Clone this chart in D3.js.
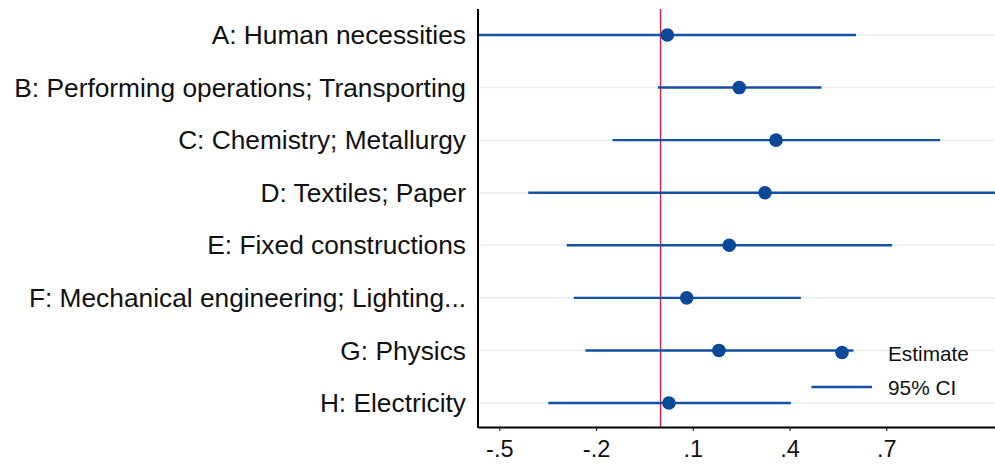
<!DOCTYPE html>
<html>
<head>
<meta charset="utf-8">
<script src="https://cdn.jsdelivr.net/npm/d3@7"></script>
<style>
  html, body { margin: 0; padding: 0; background: #fff; }
  svg { display: block; font-family: "Liberation Sans", Arial, sans-serif; }
</style>
</head>
<body>
<svg id="chart" width="995" height="464"></svg>
<script>
const categories = [
  "A: Human necessities",
  "B: Performing operations; Transporting",
  "C: Chemistry; Metallurgy",
  "D: Textiles; Paper",
  "E: Fixed constructions",
  "F: Mechanical engineering; Lighting...",
  "G: Physics",
  "H: Electricity"
];
const estimates = [0.021, 0.244, 0.358, 0.324, 0.213, 0.081, 0.181, 0.026];
const ciLow     = [-0.70, -0.008, -0.149, -0.410, -0.291, -0.269, -0.233, -0.348];
const ciHigh    = [0.606, 0.499, 0.867, 1.10, 0.718, 0.435, 0.598, 0.404];
const xTicks = [-0.5, -0.2, 0.1, 0.4, 0.7];
const xTickLabels = ["-.5", "-.2", ".1", ".4", ".7"];
const legendLabels = ["Estimate", "95% CI"];

const svg = d3.select("#chart");
const pL = 478, pR = 995, pT = 9, pB = 427;
const lineColor = "#1350a0", dotColor = "#0a4898";

const x = d3.scaleLinear().domain([-0.566, 1.037]).range([pL, pR]);
const y = d3.scalePoint().domain(categories).range([35, 403]);

svg.append("defs").append("clipPath").attr("id", "plotclip")
  .append("rect").attr("x", pL).attr("y", pT).attr("width", pR - pL).attr("height", pB - pT);

// gridlines
svg.append("g").selectAll("line").data(categories).join("line")
  .attr("x1", pL).attr("x2", pR)
  .attr("y1", d => y(d)).attr("y2", d => y(d))
  .attr("stroke", "#e6eef0").attr("stroke-width", 1.5);

// zero reference line
svg.append("line")
  .attr("x1", x(0)).attr("x2", x(0)).attr("y1", pT).attr("y2", pB)
  .attr("stroke", "#dc1740").attr("stroke-width", 1.3);

const plot = svg.append("g").attr("clip-path", "url(#plotclip)");
const rows = categories.map((c, i) => ({ c, est: estimates[i], lo: ciLow[i], hi: ciHigh[i] }));

plot.selectAll("line.ci").data(rows).join("line").attr("class", "ci")
  .attr("x1", d => x(d.lo)).attr("x2", d => x(d.hi))
  .attr("y1", d => y(d.c)).attr("y2", d => y(d.c))
  .attr("stroke", lineColor).attr("stroke-width", 2.4);

plot.selectAll("circle.est").data(rows).join("circle").attr("class", "est")
  .attr("cx", d => x(d.est)).attr("cy", d => y(d.c)).attr("r", 6.8)
  .attr("fill", dotColor);

// y labels
svg.append("g").selectAll("text").data(categories).join("text")
  .attr("x", 466).attr("y", d => y(d)).attr("dy", "0.35em")
  .attr("text-anchor", "end").attr("font-size", 26.3).attr("fill", "#111")
  .text(d => d);

// axes
svg.append("line").attr("x1", pL).attr("x2", pL).attr("y1", pT).attr("y2", pB + 1)
  .attr("stroke", "#000").attr("stroke-width", 2);

const xAxis = svg.append("g").attr("transform", `translate(0,${pB})`)
  .call(d3.axisBottom(x).tickValues(xTicks).tickFormat((d, i) => xTickLabels[i]).tickSize(4).tickPadding(9).tickSizeOuter(0));
xAxis.select(".domain").attr("stroke", "#000").attr("stroke-width", 2);
xAxis.selectAll(".tick line").attr("stroke", "#000").attr("stroke-width", 1);
xAxis.selectAll(".tick text").attr("font-size", 23.5).attr("fill", "#111")
  .attr("font-family", "\"Liberation Sans\", Arial, sans-serif");

// legend
const lg = svg.append("g");
lg.append("circle").attr("cx", 842).attr("cy", 352.5).attr("r", 6.8).attr("fill", dotColor);
lg.append("line").attr("x1", 811.5).attr("x2", 872).attr("y1", 387).attr("y2", 387)
  .attr("stroke", lineColor).attr("stroke-width", 2.4);
lg.selectAll("text").data(legendLabels).join("text")
  .attr("x", 888).attr("y", (d, i) => i === 0 ? 354 : 388).attr("dy", "0.35em")
  .attr("font-size", 20.8).attr("fill", "#111").text(d => d);
</script>
</body>
</html>
